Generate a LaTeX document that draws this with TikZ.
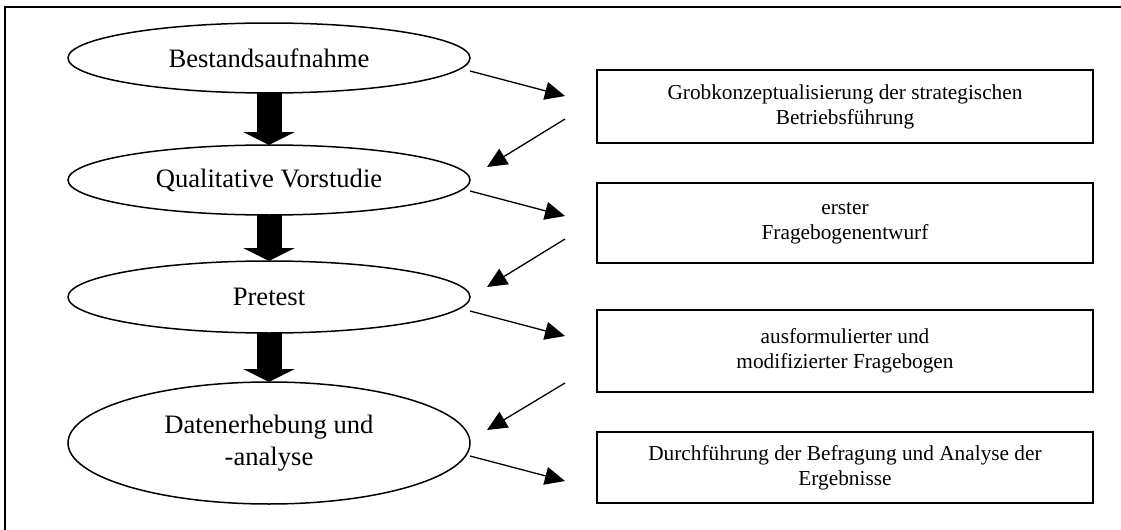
\documentclass[tikz,border=0pt]{standalone}
\usepackage{fontspec}
\setmainfont{Liberation Serif}
\usetikzlibrary{arrows.meta,shapes.geometric}
\begin{document}
\begin{tikzpicture}[x=0.5pt,y=-0.5pt,
  stage/.style={draw=black, line width=0.75pt, ellipse, inner sep=0pt, outer sep=0pt,
    minimum width=201pt, align=center, font=\fontsize{13.3}{16}\selectfont},
  result/.style={draw=black, line width=0.75pt, rectangle, inner sep=0pt, outer sep=0pt,
    minimum width=248pt, align=center, font=\fontsize{10.65}{12.5}\selectfont},
  blockarrow/.style={line width=12.5pt, -{Triangle[length=6.5pt,width=25.5pt]}},
  flow/.style={line width=0.65pt, -{Triangle[length=10pt,width=9pt]}}]
\useasboundingbox (0,0) rectangle (1121,530);
% outer frame (cut off at right and bottom)
\draw[line width=0.75pt] (1121,7) -- (5,7) -- (5,530);
% stages
\node[stage, minimum height=35pt] (e1) at (269,58) {Bestandsaufnahme};
\node[stage, minimum height=35pt] (e2) at (269,180) {Qualitative Vorstudie};
\node[stage, minimum height=36pt] (e3) at (269,297) {Pretest};
\node[stage, minimum height=61pt] (e4) at (269,443) {Datenerhebung und\\-analyse};
% results
\node[result, minimum height=36.5pt] (b1) at (845,106.5) {Grobkonzeptualisierung der strategischen\\Betriebsführung};
\node[result, minimum height=40pt] (b2) at (845,223) {erster\\Fragebogenentwurf};
\node[result, minimum height=41pt] (b3) at (845,351) {ausformulierter und\\modifizierter Fragebogen};
\node[result, minimum height=35.5pt] (b4) at (845,467.5) {Durchführung der Befragung und Analyse der\\Ergebnisse};
% block arrows
\draw[blockarrow] (e1.south) -- (e2.north);
\draw[blockarrow] (e2.south) -- (e3.north);
\draw[blockarrow] (e3.south) -- (e4.north);
% thin arrows
\draw[flow] ([yshift=-6.5pt]e1.east) -- ([shift={(-16pt,5.25pt)}]b1.west);
\draw[flow] ([shift={(-16pt,-6.25pt)}]b1.west) -- ([shift={(8.5pt,6.5pt)}]e2.east);
\draw[flow] ([yshift=-5.5pt]e2.east) -- ([shift={(-16pt,3.5pt)}]b2.west);
\draw[flow] ([shift={(-16pt,-8pt)}]b2.west) -- ([shift={(8.5pt,5pt)}]e3.east);
\draw[flow] ([yshift=-7pt]e3.east) -- ([shift={(-16pt,7.5pt)}]b3.west);
\draw[flow] ([shift={(-16pt,-16pt)}]b3.west) -- ([shift={(8.5pt,6.5pt)}]e4.east);
\draw[flow] ([yshift=-6.5pt]e4.east) -- ([shift={(-16pt,-6.75pt)}]b4.west);
\end{tikzpicture}
\end{document}
